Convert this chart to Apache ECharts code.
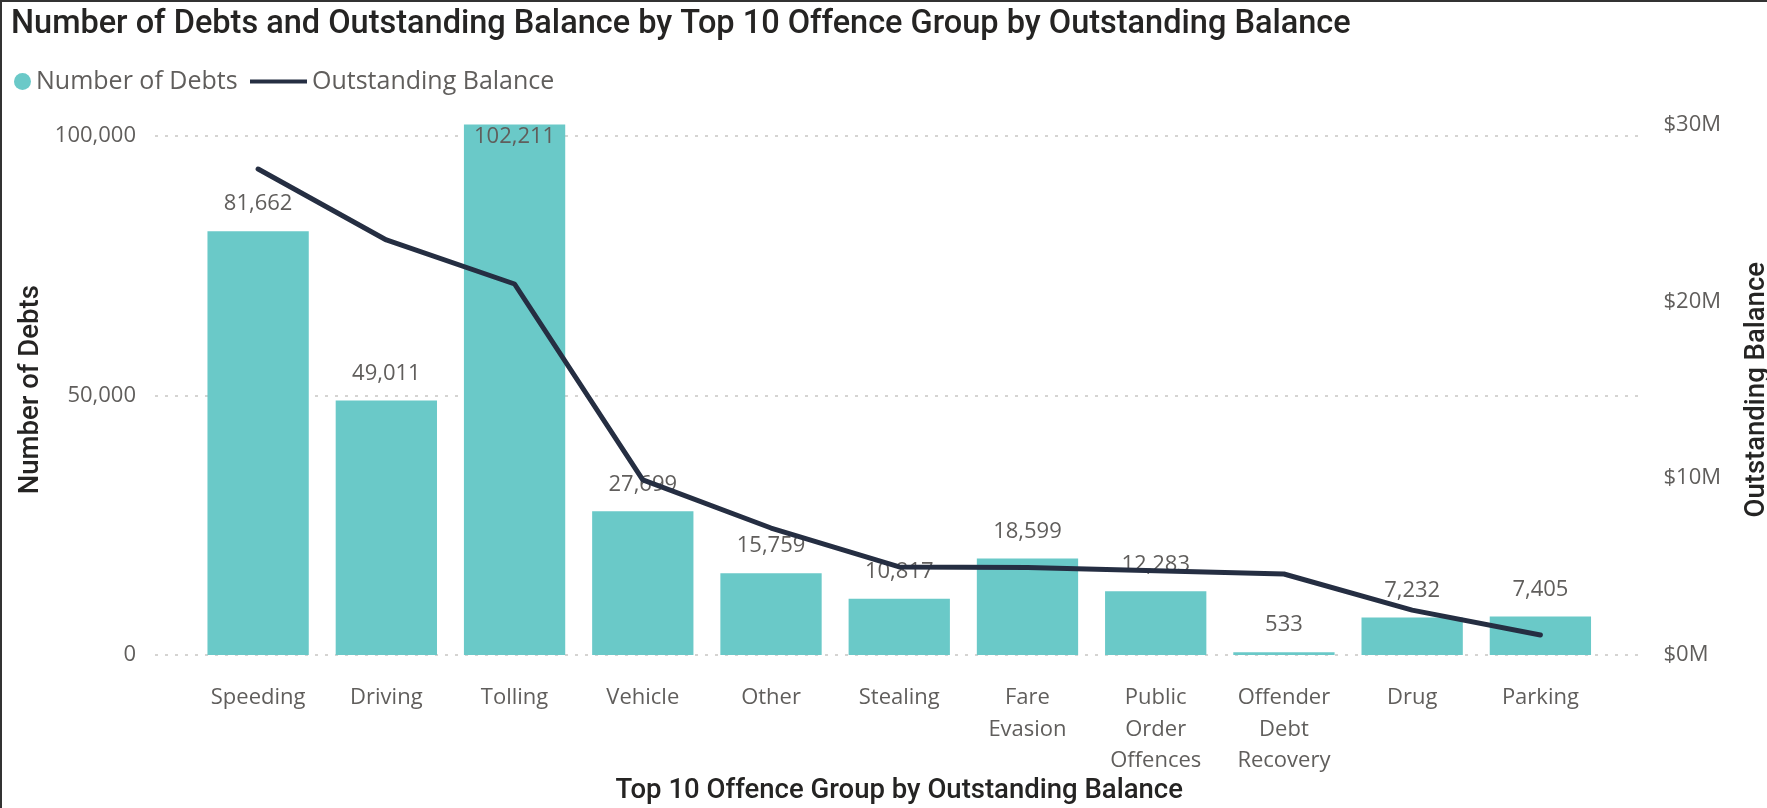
<!DOCTYPE html>
<html>
<head>
<meta charset="utf-8">
<script src="https://cdn.jsdelivr.net/npm/echarts@6/dist/echarts.min.js"></script>
<style>
  html, body { margin: 0; padding: 0; background: #ffffff; }
  #chart { width: 1767px; height: 808px; }
  #frame { position: absolute; left: 0; top: 0; width: 1767px; height: 808px;
           box-sizing: border-box; border-left: 2px solid #333; border-top: 2px solid #333;
           pointer-events: none; }
</style>
</head>
<body>
<div id="chart"></div>
<div id="frame"></div>
<script>
// Offence groups (top 10 by outstanding balance, plus Parking)
const categories = ['Speeding', 'Driving', 'Tolling', 'Vehicle', 'Other', 'Stealing',
  'Fare\nEvasion', 'Public\nOrder\nOffences', 'Offender\nDebt\nRecovery', 'Drug', 'Parking'];
// Number of debts per group
const numberOfDebts = [81662, 49011, 102211, 27699, 15759, 10817, 18599, 12283, 533, 7232, 7405];
// Outstanding balance per group, in dollars
const outstandingBalance = [27.48e6, 23.47e6, 20.98e6, 9.90e6, 7.18e6, 4.98e6, 4.95e6, 4.77e6, 4.58e6, 2.54e6, 1.13e6];
// Axis tick values
const debtTicks = [0, 50000, 100000];
const balanceTicks = [0, 10e6, 20e6, 30e6];

const labelFont = 'Open Sans';
const titleFont = 'Roboto';
const grey = '#605E5C';
const ink = '#252423';
const teal = '#6AC9C8';
const navy = '#252E42';

const debtMax = Math.max(...numberOfDebts);
const fmtNum = v => Math.round(v).toLocaleString('en-US');

// plot area geometry
const plotTop = 124.5, plotBottom = 655;
const plotH = plotBottom - plotTop;
const gridTop = plotBottom - plotH * debtTicks[debtTicks.length - 1] / debtMax;

const barData = numberOfDebts.map(v => {
  const item = { value: v };
  if (v > debtMax * 0.95) item.label = { position: 'insideTop', distance: 1 };
  return item;
});

const chart = echarts.init(document.getElementById('chart'));
chart.setOption({
  animation: false,
  title: {
    text: 'Number of Debts and Outstanding Balance by Top 10 Offence Group by Outstanding Balance',
    left: 11, top: 8, padding: 0,
    textStyle: { fontFamily: titleFont, fontSize: 32.5, fontWeight: 500, color: ink }
  },
  legend: [
    {
      data: [{ name: 'Number of Debts', icon: 'circle' }],
      left: 14, top: 69, padding: 0, itemWidth: 17, itemHeight: 17,
      textStyle: { fontFamily: labelFont, fontSize: 25, color: grey }
    },
    {
      data: [{ name: 'Outstanding Balance', icon: 'rect' }],
      left: 250, top: 69, padding: 0, itemWidth: 57, itemHeight: 4,
      textStyle: { fontFamily: labelFont, fontSize: 25, color: grey }
    }
  ],
  grid: [
    { left: 194, right: 1767 - 1604.5, top: plotTop, height: plotH, outerBoundsMode: 'none' },
    { left: 155, right: 1767 - 1638, top: gridTop, height: plotBottom - gridTop, outerBoundsMode: 'none' }
  ],
  xAxis: [
    {
      type: 'category', gridIndex: 0, data: categories,
      axisLine: { show: false }, axisTick: { show: false },
      axisLabel: { fontFamily: labelFont, fontSize: 22, color: grey, margin: 27, lineHeight: 31.5, interval: 0 },
      name: 'Top 10 Offence Group by Outstanding Balance',
      nameLocation: 'middle', nameGap: 122.5, nameMoveOverlap: false,
      nameTextStyle: { fontFamily: titleFont, fontSize: 27.5, fontWeight: 500, color: ink }
    },
    { type: 'value', gridIndex: 1, min: 0, max: 1, show: false }
  ],
  yAxis: [
    {
      type: 'value', gridIndex: 0, min: debtTicks[0], max: debtMax,
      interval: debtTicks[1] - debtTicks[0],
      axisLine: { show: false }, axisTick: { show: false }, splitLine: { show: false },
      axisLabel: { fontFamily: labelFont, fontSize: 22, color: grey, margin: 58,
                   showMaxLabel: false, formatter: fmtNum },
      name: 'Number of Debts', nameLocation: 'middle', nameRotate: 90, nameGap: 149,
      nameMoveOverlap: false,
      nameTextStyle: { fontFamily: titleFont, fontSize: 27.5, fontWeight: 500, color: ink }
    },
    {
      type: 'value', gridIndex: 0, position: 'right',
      min: balanceTicks[0], max: balanceTicks[balanceTicks.length - 1],
      interval: balanceTicks[1] - balanceTicks[0],
      axisLine: { show: false }, axisTick: { show: false }, splitLine: { show: false },
      axisLabel: { fontFamily: labelFont, fontSize: 22, color: grey, margin: 59,
                   formatter: v => '$' + (v / 1e6) + 'M' },
      name: 'Outstanding Balance', nameLocation: 'middle', nameRotate: 90, nameGap: 139,
      nameMoveOverlap: false,
      nameTextStyle: { fontFamily: titleFont, fontSize: 27.5, fontWeight: 500, color: ink }
    },
    {
      // dotted gridlines behind the bars
      type: 'value', gridIndex: 1, min: debtTicks[0], max: debtTicks[debtTicks.length - 1],
      interval: debtTicks[1] - debtTicks[0],
      axisLine: { show: false }, axisTick: { show: false }, axisLabel: { show: false },
      splitLine: { show: true, lineStyle: { color: '#C8C6C4', width: 1.5, type: [3, 7] } }
    }
  ],
  series: [
    {
      name: 'Number of Debts', type: 'bar', xAxisIndex: 0, yAxisIndex: 0,
      data: barData, barCategoryGap: '21%', z: 2,
      itemStyle: { color: teal },
      label: { show: true, position: 'top', distance: 16, fontFamily: labelFont,
               fontSize: 22, color: grey, formatter: p => fmtNum(p.value) }
    },
    {
      name: 'Outstanding Balance', type: 'line', xAxisIndex: 0, yAxisIndex: 1,
      data: outstandingBalance, symbol: 'none', z: 5,
      itemStyle: { color: navy },
      lineStyle: { color: navy, width: 5, cap: 'round', join: 'round' }
    }
  ]
});
</script>
</body>
</html>
